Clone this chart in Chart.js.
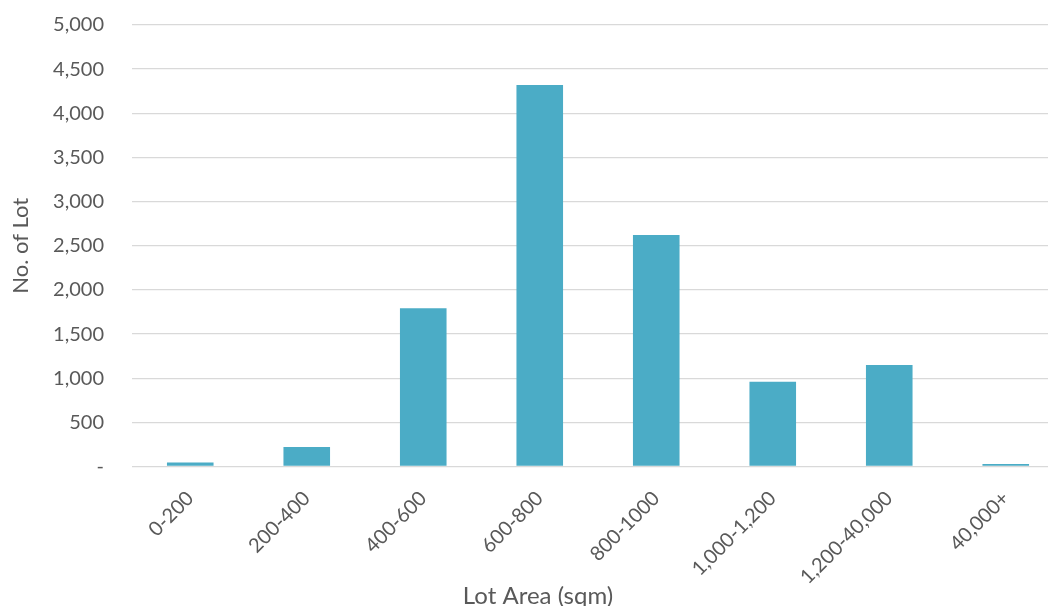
<!DOCTYPE html>
<html>
<head>
<meta charset="utf-8">
<script src="https://cdn.jsdelivr.net/npm/chart.js@4.4.1/dist/chart.umd.min.js"></script>
<style>
  html, body { margin: 0; padding: 0; background: #fff; overflow: hidden; }
  #wrap { width: 1064px; height: 606px; }
</style>
</head>
<body>
<div id="wrap"><canvas id="lotChart" width="1064" height="606"></canvas></div>
<script>
// lot counts per area band
var lotBands = ['0-200', '200-400', '400-600', '600-800', '800-1000', '1,000-1,200', '1,200-40,000', '40,000+']
var lotCounts = [45, 220, 1792, 4320, 2622, 960, 1150, 28]
var yTicks = [0, 500, 1000, 1500, 2000, 2500, 3000, 3500, 4000, 4500, 5000]

var textGrey = '#595959'
var gridGrey = '#d9d9d9'
var fontName = 'Lato, "Open Sans", sans-serif'

// x axis title, centred under the visible part of the chart
var xTitle = {
    id: 'xTitle',
    afterDraw: function(chart, args, opts){
        var ctx = chart.ctx
        ctx.save()
        ctx.fillStyle = textGrey
        ctx.font = '24px ' + fontName
        ctx.textAlign = 'center'
        ctx.textBaseline = 'middle'
        ctx.fillText(opts.text, opts.x, opts.y)
        ctx.restore()
    }
}

var ctx = document.getElementById('lotChart').getContext('2d')
var lotChart = new Chart(ctx, {
    type: 'bar',
    data: {
        labels: lotBands,
        datasets: [{
            label: 'No. of Lot',
            data: lotCounts,
            backgroundColor: '#4bacc6',
            borderWidth: 0,
            barPercentage: 0.4,
            categoryPercentage: 1
        }]
    },
    options: {
        responsive: false,
        animation: false,
        layout: { padding: { top: 0, left: 0, right: 0, bottom: 0 } },
        plugins: {
            legend: { display: false },
            tooltip: { enabled: false },
            xTitle: { text: 'Lot Area (sqm)', x: 538, y: 596 }
        },
        scales: {
            x: {
                grid: { display: false },
                border: { display: false },
                ticks: {
                    color: textGrey,
                    font: { family: fontName, size: 20 },
                    minRotation: 45,
                    maxRotation: 45,
                    padding: 12
                },
                afterFit: function(scale){ scale.height = 139.5 }
            },
            y: {
                min: 0,
                max: 5000,
                afterBuildTicks: function(scale){
                    scale.ticks = yTicks.map(function(v){ return { value: v } })
                },
                grid: { color: gridGrey, lineWidth: 1.3, drawTicks: false },
                border: { display: false },
                ticks: {
                    color: textGrey,
                    font: { family: fontName, size: 20 },
                    padding: 28,
                    callback: function(v){ return v === 0 ? '-' : v.toLocaleString('en-US') }
                },
                title: {
                    display: true,
                    text: 'No. of Lot',
                    color: textGrey,
                    font: { family: fontName, size: 22 },
                    padding: { top: 8, bottom: 0 }
                },
                afterFit: function(scale){
                    scale.width = 132
                    // room above the top gridline for the 5,000 label
                    scale.paddingTop = 25
                }
            }
        }
    },
    plugins: [xTitle]
})
</script>
</body>
</html>
